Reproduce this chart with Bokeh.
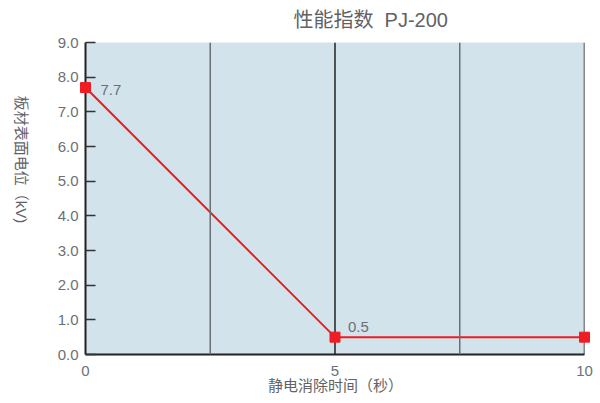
from bokeh.plotting import figure
from bokeh.models import Range1d, FixedTicker, Label, Span, ColumnDataSource, CustomJSTickFormatter
from bokeh.core.properties import value
from bokeh.embed import file_html
from bokeh.resources import INLINE

x_vals = [0, 5, 10]
y_vals = [7.7, 0.5, 0.5]
point_labels = ["7.7", "0.5"]
x_ticks = [0, 5, 10]
y_ticks = [0, 1, 2, 3, 4, 5, 6, 7, 8, 9]
grid_minor = [2.5, 7.5]
grid_major = [5, 10]
title_text = "性能指数\u00a0\u00a0PJ-200"
y_title = "板材表面电位（kV)"
x_title = "静电消除时间（秒）"

FONT = "Liberation Sans"
MIX = "Liberation Sans, Noto Sans CJK SC"
GRAY = "#6b7076"

p = figure(width=600, height=403, output_backend="svg", toolbar_location=None,
           x_range=Range1d(0, 10), y_range=Range1d(0, 9),
           min_border_left=85, min_border_right=16, min_border_top=42, min_border_bottom=49)
p.background_fill_color = "#d3e3eb"
p.border_fill_color = "white"
p.outline_line_color = None
p.grid.visible = False

p.xaxis.ticker = FixedTicker(ticks=x_ticks)
p.yaxis.ticker = FixedTicker(ticks=y_ticks)
p.yaxis.formatter = CustomJSTickFormatter(code="return tick.toFixed(1);")
for ax in (p.xaxis, p.yaxis):
    ax.axis_line_color = "#222222"
    ax.axis_line_width = 2
    ax.major_label_text_font = FONT
    ax.major_label_text_font_size = "15px"
    ax.major_label_text_color = GRAY
    ax.minor_tick_line_color = None
p.xaxis.major_tick_line_color = None
p.xaxis.major_label_standoff = 5
p.yaxis.major_tick_in = 10
p.yaxis.major_tick_out = 0
p.yaxis.major_tick_line_color = "#333333"
p.yaxis.major_tick_line_width = 1.5
p.yaxis.major_label_standoff = 7

for g in grid_minor:
    p.add_layout(Span(location=g, dimension="height", line_color="#6a6f74", line_width=1.5))
for g in grid_major:
    p.add_layout(Span(location=g, dimension="height", line_color="#222222", line_width=1.5))

src = ColumnDataSource(dict(x=x_vals, y=y_vals))
p.line("x", "y", source=src, line_color="#f01c24", line_width=2)
p.scatter("x", "y", source=src, marker="square", size=10, color="#f01c24", level="overlay")

p.add_layout(Label(x=x_vals[0], y=y_vals[0], text=point_labels[0], x_offset=15, y_offset=-7,
                   text_font=FONT, text_font_size="15px", text_color=GRAY))
p.add_layout(Label(x=x_vals[1], y=y_vals[1], text=point_labels[1], x_offset=13, y_offset=5,
                   text_font=FONT, text_font_size="15px", text_color=GRAY))

# titles drawn as unclipped text glyphs outside the frame
p.text(x=[4.168], y=[9.663], text=[title_text], text_font=value(MIX), text_font_size="20px",
       text_color="#5f6368", text_align="left", text_baseline="middle", level="overlay")
p.text(x=[-1.283], y=[5.625], text=[y_title], angle=-1.5708, text_font=value(MIX),
       text_font_size="15px", text_color="#5f6368", text_align="center",
       text_baseline="middle", level="overlay")
p.text(x=[5.01], y=[-0.894], text=[x_title], text_font=value(MIX), text_font_size="15px",
       text_color="#5f6368", text_align="center", text_baseline="middle", level="overlay")

open("out.html", "w").write(file_html(p, INLINE))
